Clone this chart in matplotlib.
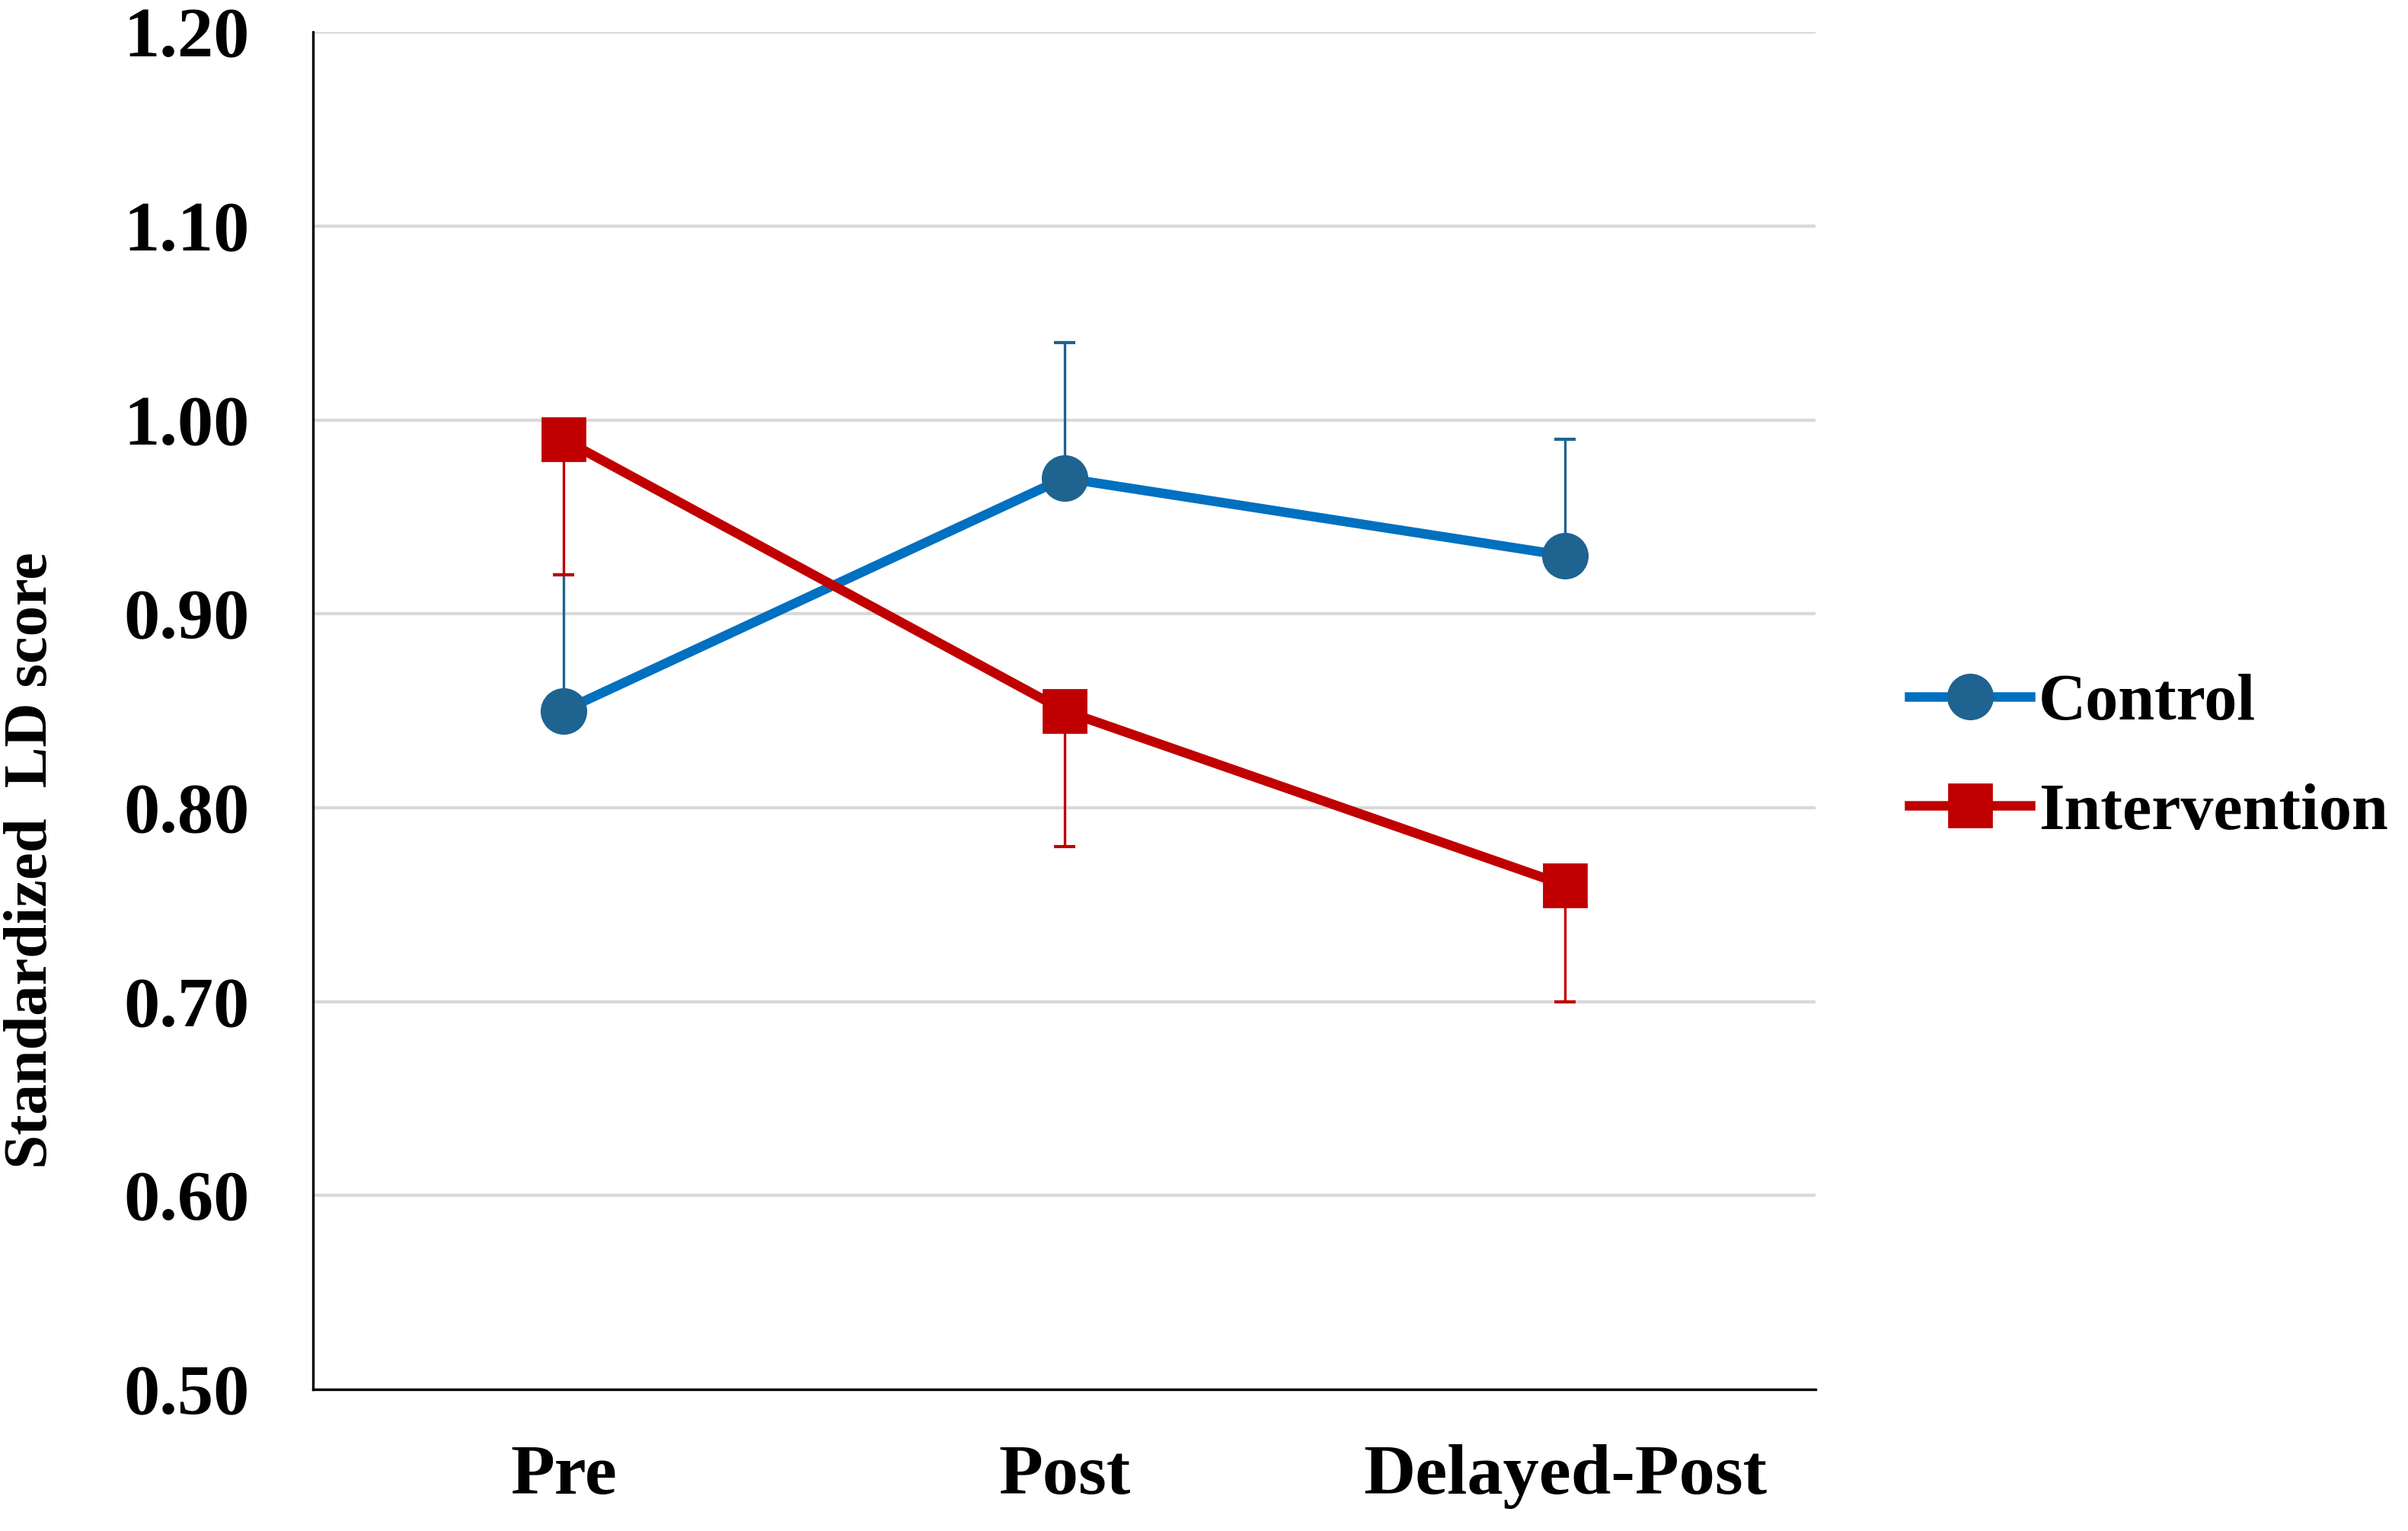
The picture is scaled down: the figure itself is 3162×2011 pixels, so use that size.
import matplotlib.pyplot as plt
import numpy as np

plt.rcParams['font.family'] = ['Liberation Serif', 'DejaVu Serif']
plt.rcParams['font.weight'] = 'bold'

# data
phases = ['Pre', 'Post', 'Delayed-Post']
control = [0.85, 0.97, 0.93]
control_err = [0.07, 0.07, 0.06]
intervention = [0.99, 0.85, 0.76]
intervention_err = [0.07, 0.07, 0.06]

fig = plt.figure(figsize=(15.81, 10.055), dpi=200)
ax = fig.add_axes([0.130, 0.0925, 0.624, 0.8865])

x = np.arange(len(phases)) + 0.5

ax.errorbar(x, control, yerr=[np.zeros(3), control_err], fmt='none',
            ecolor='#1F6391', elinewidth=1.2, capsize=5, capthick=1.5, zorder=3)
ax.errorbar(x, intervention, yerr=[intervention_err, np.zeros(3)], fmt='none',
            ecolor='#C00000', elinewidth=1.2, capsize=5, capthick=1.5, zorder=3)

ax.plot(x, control, color='#0070C0', lw=4.5, marker='o', ms=21,
        mfc='#1F6391', mec='#1F6391', label='Control', zorder=4)
ax.plot(x, intervention, color='#C00000', lw=4.5, marker='s', ms=20,
        mfc='#C00000', mec='#C00000', label='Intervention', zorder=5)

ax.set_xlim(0, 3)
ax.set_ylim(0.5, 1.2)
ax.set_yticks(np.arange(0.5, 1.21, 0.1))
ax.set_yticklabels([f'{v:.2f}' for v in np.arange(0.5, 1.21, 0.1)])
ax.set_xticks(x)
ax.set_xticklabels(phases)
ax.tick_params(axis='both', length=0, labelsize=34)
ax.tick_params(axis='x', pad=26)
ax.tick_params(axis='y', pad=30)

ax.grid(axis='y', color='#D9D9D9', lw=1.5)
ax.set_axisbelow(True)
for s in ['top', 'right']:
    ax.spines[s].set_visible(False)
for s in ['left', 'bottom']:
    ax.spines[s].set_linewidth(1.2)
    ax.spines[s].set_color('black')

fig.text(0.013, 0.438, 'Standardized  LD score', rotation=90, va='center',
         ha='center', fontsize=29, fontweight='bold')

ax.legend(loc='center left', bbox_to_anchor=(1.023, 0.465), frameon=False,
          fontsize=31, handlelength=1.85, handletextpad=0.12, labelspacing=0.75)

fig.savefig('out.png', dpi=200)
